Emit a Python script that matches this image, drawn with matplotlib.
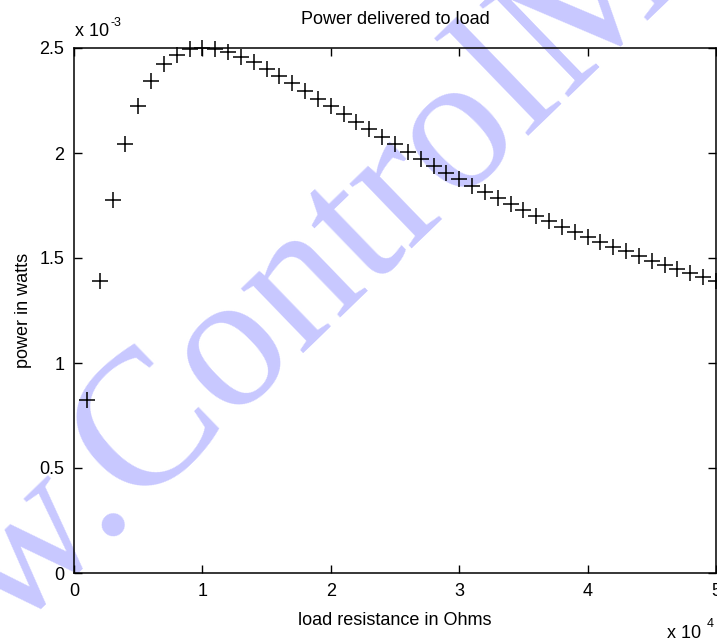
import matplotlib
matplotlib.use("Agg")
import matplotlib.pyplot as plt
from matplotlib import font_manager

# Data: load resistance in Ohms, power in watts (x1e-3)
resistance_ohms = [1000, 2000, 3000, 4000, 5000, 6000, 7000, 8000, 9000, 10000,
                   11000, 12000, 13000, 14000, 15000, 16000, 17000, 18000, 19000, 20000,
                   21000, 22000, 23000, 24000, 25000, 26000, 27000, 28000, 29000, 30000,
                   31000, 32000, 33000, 34000, 35000, 36000, 37000, 38000, 39000, 40000,
                   41000, 42000, 43000, 44000, 45000, 46000, 47000, 48000, 49000, 50000]
power_mw = [0.826, 1.389, 1.775, 2.041, 2.222, 2.344, 2.422, 2.469, 2.493, 2.500,
            2.494, 2.479, 2.457, 2.431, 2.400, 2.367, 2.332, 2.296, 2.259, 2.222,
            2.185, 2.148, 2.112, 2.076, 2.041, 2.006, 1.972, 1.939, 1.907, 1.875,
            1.844, 1.814, 1.785, 1.756, 1.728, 1.701, 1.675, 1.649, 1.624, 1.600,
            1.576, 1.553, 1.531, 1.509, 1.488, 1.467, 1.447, 1.427, 1.408, 1.389]
power_watts = [p * 1e-3 for p in power_mw]

x_ticks = [0, 10000, 20000, 30000, 40000, 50000]
x_tick_labels = ["0", "1", "2", "3", "4", "5"]
y_ticks = [0, 0.0005, 0.001, 0.0015, 0.002, 0.0025]
y_tick_labels = ["0", "0.5", "1", "1.5", "2", "2.5"]

title_text = "Power delivered to load"
x_label = "load resistance in Ohms"
y_label = "power in watts"
watermark = "www.ControlMe"

names = {f.name for f in font_manager.fontManager.ttflist}
sans = "Liberation Sans Narrow" if "Liberation Sans Narrow" in names else "Liberation Sans"
plt.rcParams["font.family"] = [sans, "DejaVu Sans"]
fs = 13

fig = plt.figure(figsize=(7.17, 6.42), dpi=100)
fig.patch.set_facecolor("white")

# watermark behind the axes
fig.text(-191.6 / 717, 1 - 830.4 / 642, watermark, rotation=44, rotation_mode="anchor",
         ha="left", va="baseline", fontsize=140, color="#c8c8ff",
         family=["Liberation Serif", "DejaVu Serif"], zorder=-5)

ax = fig.add_axes([74 / 717, 1 - 573 / 642, (716 - 74) / 717, (573 - 48) / 642])
ax.set_facecolor("none")
ax.plot(resistance_ohms, power_watts, linestyle="none", marker="+", color="black",
        markersize=11, markeredgewidth=1.1, clip_on=False)

ax.set_xlim(0, 50000)
ax.set_ylim(0, 0.0025)
ax.set_xticks(x_ticks)
ax.set_xticklabels(x_tick_labels)
ax.set_yticks(y_ticks)
ax.set_yticklabels(y_tick_labels)
ax.tick_params(direction="in", length=6, width=1, top=True, right=True,
               labelsize=fs, pad=7, colors="black")
for s in ax.spines.values():
    s.set_linewidth(1.1)

ax.set_title(title_text, fontsize=fs, pad=17)
ax.set_xlabel(x_label, fontsize=fs, labelpad=9)
ax.set_ylabel(y_label, fontsize=fs, labelpad=5)

fig.text(75 / 717, 1 - 36 / 642, "x 10", fontsize=fs, ha="left", va="baseline")
fig.text(111 / 717, 1 - 26 / 642, "-3", fontsize=9, ha="left", va="baseline")
fig.text(667 / 717, 1 - 638 / 642, "x 10", fontsize=fs, ha="left", va="baseline")
fig.text(707 / 717, 1 - 627 / 642, "4", fontsize=9, ha="left", va="baseline")

fig.savefig("out.png", dpi=100, facecolor="white")
